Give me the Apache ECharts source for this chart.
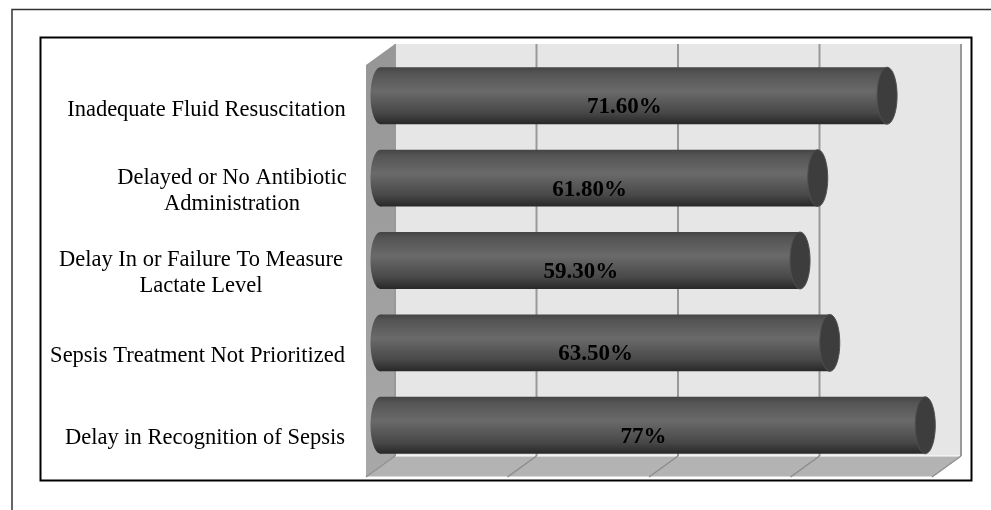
<!DOCTYPE html>
<html><head><meta charset="utf-8">
<style>html,body{margin:0;padding:0;background:#fff}#c{width:991px;height:510px}</style>
<script src="https://cdn.jsdelivr.net/npm/echarts@6/dist/echarts.min.js"></script>
</head><body><div id="c"></div>
<script>
const categories = ['Inadequate Fluid Resuscitation','Delayed or No Antibiotic\nAdministration','Delay In or Failure To Measure\nLactate Level','Sepsis Treatment Not Prioritized','Delay in Recognition of Sepsis'];
const values = [71.6,61.8,59.3,63.5,77];
const valueLabels = ['71.60%','61.80%','59.30%','63.50%','77%'];
const xTicks = [0,20,40,60,80];
const FONT = '"Liberation Serif"';
const DX = 29, DY = -21;
const chart = echarts.init(document.getElementById('c'), null, {renderer:'canvas'});
const tokens = ['a','b','c','d','e'];
function bodyGrad(){return new echarts.graphic.LinearGradient(0,0,0,1,[
 {offset:0,color:'#444444'},{offset:.1,color:'#545454'},{offset:.42,color:'#6a6a6a'},{offset:.8,color:'#484848'},{offset:1,color:'#282828'}]);}
const tok = w => ({width:w,align:'center',fontFamily:FONT,fontSize:22.5,lineHeight:26,color:'#000'});
chart.setOption({
 animation:false,
 grid:{left:366,right:59,top:65,bottom:33,containLabel:false},
 xAxis:{type:'value',min:0,max:80,interval:20,axisLabel:{show:false},axisLine:{show:false},axisTick:{show:false},splitLine:{show:false}},
 yAxis:{type:'category',inverse:true,data:categories,axisLine:{show:false},axisTick:{show:false},splitLine:{show:false},
  axisLabel:{margin:20,align:'right',padding:[5,0,0,0],
   formatter:(v,i)=>v.split('\n').map(l=>`{${tokens[i]}|${l}}`).join('\n'),
   rich:{
    a:Object.assign(tok(279),{padding:[3,0,0,0]}),
    b:tok(228),c:tok(290),d:tok(297),e:tok(282)
   }}},
 graphic:[
  {type:'polyline',silent:true,shape:{points:[[12,510],[12,9.5],[991,9.5]]},style:{stroke:'#333',lineWidth:1.5,fill:null}},
  {type:'rect',silent:true,shape:{x:40.5,y:37.5,width:931,height:443},style:{stroke:'#000',lineWidth:2,fill:null}}
 ],
 series:[
  {type:'custom',z:1,silent:true,data:[[0,0]],renderItem(p,api){
    const cs=p.coordSys,l=cs.x,t=cs.y,r=cs.x+cs.width,b=cs.y+cs.height;
    return {type:'group',children:[
     {type:'rect',shape:{x:l+DX,y:t+DY,width:cs.width,height:cs.height},style:{fill:'#e6e6e6'}},
     {type:'polygon',shape:{points:[[l,t],[l+DX,t+DY],[l+DX,b+DY],[l,b]]},style:{fill:new echarts.graphic.LinearGradient(0,0,0,1,[{offset:0,color:'#969696'},{offset:1,color:'#a8a8a8'}])}},
     {type:'polygon',shape:{points:[[l,b],[l+DX,b+DY],[r+DX,b+DY],[r,b]]},style:{fill:'#b3b3b3',stroke:'#fff',lineWidth:1}}
    ]};
  }},
  {type:'custom',z:2,silent:true,data:xTicks.map(v=>[v,0]),renderItem(p,api){
    const cs=p.coordSys,x=api.coord([api.value(0),0])[0],b=cs.y+cs.height;
    return {type:'group',children:[
     {type:'line',shape:{x1:x+DX,y1:cs.y+DY,x2:x+DX,y2:b+DY},style:{stroke:'#999',lineWidth:2}},
     {type:'line',shape:{x1:x+DX,y1:b+DY,x2:x,y2:b},style:{stroke:'#8c8c8c',lineWidth:1.5}}
    ]};
  }},
  {type:'custom',z:3,silent:true,data:values.map((v,i)=>[v,i,valueLabels[i]]),renderItem(p,api){
    const v=api.value(0),i=api.value(1),end=api.coord([v,i]),start=api.coord([0,i]);
    const h=api.size([0,1])[1]*0.69,rx=10;
    const cy=end[1]+DY/2,x0=start[0]+DX/2,x1=end[0]+DX/2;
    return {type:'group',children:[
     {type:'ellipse',shape:{cx:x0,cy:cy,rx:rx,ry:h/2},style:{fill:bodyGrad()}},
     {type:'rect',shape:{x:x0,y:cy-h/2,width:x1-x0,height:h},style:{fill:bodyGrad()}},
     {type:'ellipse',shape:{cx:x1,cy:cy,rx:rx,ry:h/2},style:{fill:'#3d3d3d',stroke:'#4f4f4f',lineWidth:1}},
     {type:'text',style:{text:valueLabels[i],x:(start[0]+end[0])/2+5,y:end[1]+1,align:'center',verticalAlign:'middle',fontFamily:FONT,fontWeight:'bold',fontSize:23,fill:'#000'}}
    ]};
  }}
 ]
});
</script></body></html>
